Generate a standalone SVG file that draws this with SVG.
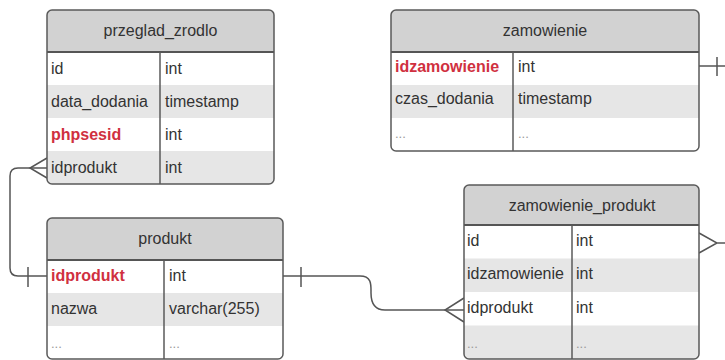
<svg xmlns="http://www.w3.org/2000/svg" width="725" height="360" viewBox="0 0 725 360">
<style>
text{font-family:"Liberation Sans",Arial,sans-serif;font-size:16px;fill:#333}
.h{text-anchor:middle}
.k{fill:#d03040;font-weight:bold}
.d{fill:#999;font-size:13px}
.bg{fill:#fff}
.hd{fill:#d2d2d2}
.st{fill:#e6e6e6}
.bd{fill:none;stroke:#5a5a5a;stroke-width:1.5}
.hl{stroke:#555;stroke-width:2}
.dv{stroke:#5a5a5a;stroke-width:1.5}
.c{fill:none;stroke:#555;stroke-width:1.5}
</style>
<defs>
<clipPath id="cp1"><rect x="47" y="10" width="227" height="174" rx="5"/></clipPath>
<clipPath id="cp2"><rect x="391" y="10" width="308" height="141" rx="5"/></clipPath>
<clipPath id="cp3"><rect x="47" y="218" width="236" height="141" rx="5"/></clipPath>
<clipPath id="cp4"><rect x="464" y="185" width="235" height="174" rx="5"/></clipPath>
</defs>

<g id="connectors">
<path class="c" d="M47,168 L18,168 Q10,168 10,176 L10,268 Q10,276 18,276 L47,276"/>
<path class="c" d="M47,158 L30,168 L47,178"/>
<path class="c" d="M28,267 L28,287"/>
<path class="c" d="M283,276 L360,276 C372,276 371,285 371,293 C371,302 374,310 385,310 L464,310"/>
<path class="c" d="M464,298 L445,310 L464,322"/>
<path class="c" d="M301,267 L301,287"/>
<path class="c" d="M699,66 L725,66"/>
<path class="c" d="M717,57 L717,76"/>
<path class="c" d="M699,233 L717,243 L699,253 M717,243 L725,243"/>
</g>

<g id="przeglad_zrodlo">
<g clip-path="url(#cp1)">
<rect class="bg" x="47" y="10" width="227" height="174"/>
<rect class="hd" x="47" y="10" width="227" height="42"/>
<rect class="st" x="47" y="85" width="227" height="33"/>
<rect class="st" x="47" y="151" width="227" height="33"/>
</g>
<line class="hl" x1="47" y1="52" x2="274" y2="52"/>
<line class="dv" x1="160" y1="52" x2="160" y2="184"/>
<rect class="bd" x="47" y="10" width="227" height="174" rx="5"/>
<text class="h" x="160.5" y="36">przeglad_zrodlo</text>
<text x="51" y="74">id</text><text x="165" y="74">int</text>
<text x="51" y="107">data_dodania</text><text x="165" y="107">timestamp</text>
<text x="51" y="140" class="k">phpsesid</text><text x="165" y="140">int</text>
<text x="51" y="173">idprodukt</text><text x="165" y="173">int</text>
</g>

<g id="zamowienie">
<g clip-path="url(#cp2)">
<rect class="bg" x="391" y="10" width="308" height="141"/>
<rect class="hd" x="391" y="10" width="308" height="42"/>
<rect class="st" x="391" y="85" width="308" height="33"/>
</g>
<line class="hl" x1="391" y1="52" x2="699" y2="52"/>
<line class="dv" x1="513" y1="52" x2="513" y2="151"/>
<rect class="bd" x="391" y="10" width="308" height="141" rx="5"/>
<text class="h" x="545" y="36">zamowienie</text>
<text x="395" y="72" class="k">idzamowienie</text><text x="518" y="72">int</text>
<text x="395" y="104">czas_dodania</text><text x="518" y="104">timestamp</text>
<text x="395" y="138" class="d">...</text><text x="518" y="138" class="d">...</text>
</g>

<g id="produkt">
<g clip-path="url(#cp3)">
<rect class="bg" x="47" y="218" width="236" height="141"/>
<rect class="hd" x="47" y="218" width="236" height="42"/>
<rect class="st" x="47" y="293" width="236" height="33"/>
</g>
<line class="hl" x1="47" y1="260" x2="283" y2="260"/>
<line class="dv" x1="164" y1="260" x2="164" y2="359"/>
<rect class="bd" x="47" y="218" width="236" height="141" rx="5"/>
<text class="h" x="165" y="244">produkt</text>
<text x="51" y="281" class="k">idprodukt</text><text x="169" y="281">int</text>
<text x="51" y="314">nazwa</text><text x="169" y="314">varchar(255)</text>
<text x="51" y="348" class="d">...</text><text x="169" y="348" class="d">...</text>
</g>

<g id="zamowienie_produkt">
<g clip-path="url(#cp4)">
<rect class="bg" x="464" y="185" width="235" height="174"/>
<rect class="hd" x="464" y="185" width="235" height="40"/>
<rect class="st" x="464" y="258.5" width="235" height="33.5"/>
<rect class="st" x="464" y="325.5" width="235" height="33.5"/>
</g>
<line class="hl" x1="464" y1="225" x2="699" y2="225"/>
<line class="dv" x1="572" y1="225" x2="572" y2="359"/>
<rect class="bd" x="464" y="185" width="235" height="174" rx="5"/>
<text class="h" x="582" y="211">zamowienie_produkt</text>
<text x="467" y="246">id</text><text x="576" y="246">int</text>
<text x="467" y="279">idzamowienie</text><text x="576" y="279">int</text>
<text x="467" y="313">idprodukt</text><text x="576" y="313">int</text>
<text x="467" y="348" class="d">...</text><text x="576" y="348" class="d">...</text>
</g>
</svg>
